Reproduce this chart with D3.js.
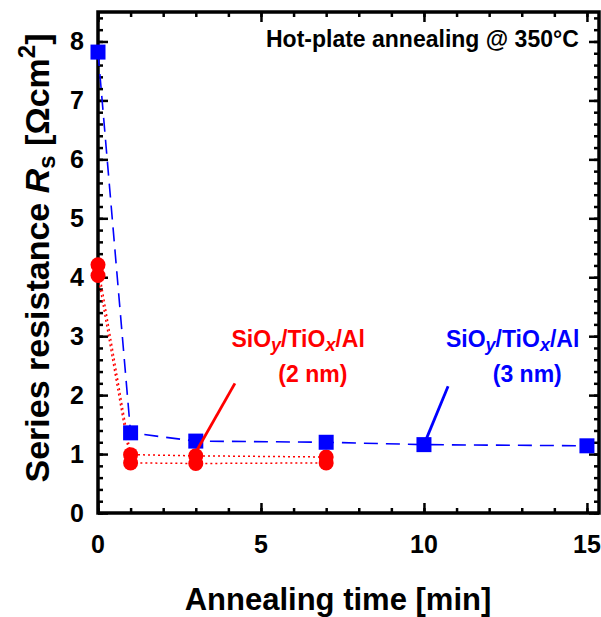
<!DOCTYPE html>
<html>
<head>
<meta charset="utf-8">
<script src="https://d3js.org/d3.v7.min.js"></script>
<style>
  body { margin: 0; background: #fff; }
  text { font-family: "Liberation Sans", Arial, sans-serif; font-weight: bold; }
</style>
</head>
<body>
<div id="chart"></div>
<script>
// data
var blueTime = [0, 1, 3, 7, 10, 15];
var blueRs   = [7.82, 1.36, 1.22, 1.20, 1.16, 1.14];
var redTime  = [0, 1, 3, 7];
var redRsA   = [4.21, 0.99, 0.97, 0.95];
var redRsB   = [4.03, 0.85, 0.84, 0.85];
var xTicks = [0, 5, 10, 15];
var yTicks = [0, 1, 2, 3, 4, 5, 6, 7, 8];

var W = 601, H = 617;
var edge = { top: 12, right: 2, bottom: 104, left: 98 };
var width = W - edge.left - edge.right,
    height = H - edge.top - edge.bottom;

var svg = d3.select("#chart").append("svg")
    .attr("width", W).attr("height", H);
var g = svg.append("g")
    .attr("transform", "translate(" + edge.left + "," + edge.top + ")");

var x = d3.scaleLinear().domain([0, 15.37]).range([0, width]);
var y = d3.scaleLinear().domain([0, 8.5]).range([height, 0]);

var minorX = d3.range(0, 15.01, 1), minorY = d3.range(0, 8.41, 0.2);

// ticks on all four sides, pointing inward
function tickAxis(axisFn, scale, vals, len, tr) {
  var a = g.append("g").attr("transform", tr)
    .call(axisFn(scale).tickValues(vals).tickSize(-len).tickFormat(""));
  a.select(".domain").remove();
  a.selectAll("line").attr("stroke", "#000").attr("stroke-width", 2.5);
}
tickAxis(d3.axisBottom, x, minorX, 5, "translate(0," + height + ")");
tickAxis(d3.axisBottom, x, xTicks, 10, "translate(0," + height + ")");
tickAxis(d3.axisTop, x, minorX, 5, "translate(0,0)");
tickAxis(d3.axisTop, x, xTicks, 10, "translate(0,0)");
tickAxis(d3.axisLeft, y, minorY, 5, "translate(0,0)");
tickAxis(d3.axisLeft, y, yTicks, 10, "translate(0,0)");
tickAxis(d3.axisRight, y, minorY, 5, "translate(" + width + ",0)");
tickAxis(d3.axisRight, y, yTicks, 10, "translate(" + width + ",0)");

g.append("rect").attr("width", width).attr("height", height)
  .attr("fill", "none").attr("stroke", "#000").attr("stroke-width", 3.5);

// tick labels
g.selectAll(".xl").data(xTicks).enter().append("text")
  .attr("x", function(d) { return x(d); }).attr("y", height + 40)
  .attr("text-anchor", "middle").attr("font-size", 25).text(function(d) { return d; });
g.selectAll(".yl").data(yTicks).enter().append("text")
  .attr("x", -14).attr("y", function(d) { return y(d) + 9; })
  .attr("text-anchor", "end").attr("font-size", 25).text(function(d) { return d; });

// axis titles
svg.append("text").attr("x", 338).attr("y", 610).attr("text-anchor", "middle")
  .attr("font-size", 31).text("Annealing time [min]");

var yl = svg.append("text").attr("transform", "translate(49,258) rotate(-90)")
  .attr("text-anchor", "middle").attr("font-size", 34);
yl.append("tspan").text("Series resistance ");
yl.append("tspan").attr("font-style", "italic").text("R");
yl.append("tspan").attr("font-size", 24).attr("dy", 6).text("s");
yl.append("tspan").attr("dy", -6).text(" [\u03A9cm");
yl.append("tspan").attr("font-size", 24).attr("dy", -14).text("2");
yl.append("tspan").attr("dy", 14).text("]");

// lines
var blue = blueTime.map(function(t, i) { return [t, blueRs[i]]; });
var redA = redTime.map(function(t, i) { return [t, redRsA[i]]; });
var redB = redTime.map(function(t, i) { return [t, redRsB[i]]; });
var line = d3.line().x(function(d) { return x(d[0]); }).y(function(d) { return y(d[1]); });

[redA, redB].forEach(function(s) {
  g.append("path").attr("d", line(s)).attr("fill", "none")
    .attr("stroke", "#ff0000").attr("stroke-width", 1.5).attr("stroke-dasharray", "2,3");
});
g.append("path").attr("d", line(blue)).attr("fill", "none")
  .attr("stroke", "#0000ff").attr("stroke-width", 1.6).attr("stroke-dasharray", "14,8");

// markers
[redA, redB].forEach(function(s) {
  g.selectAll(null).data(s).enter().append("circle")
    .attr("cx", function(d) { return x(d[0]); }).attr("cy", function(d) { return y(d[1]); })
    .attr("r", 7.5).attr("fill", "#ff0000");
});
g.selectAll(null).data(blue).enter().append("rect")
  .attr("x", function(d) { return x(d[0]) - 7.5; }).attr("y", function(d) { return y(d[1]) - 7.5; })
  .attr("width", 15).attr("height", 15).attr("fill", "#0000ff");

// annotations
g.append("line").attr("x1", x(3)).attr("y1", y(1.03)).attr("x2", x(4.2)).attr("y2", y(2.2))
  .attr("stroke", "#ff0000").attr("stroke-width", 2.8);
g.append("line").attr("x1", x(10)).attr("y1", y(1.16)).attr("x2", x(10.74)).attr("y2", y(2.15))
  .attr("stroke", "#0000ff").attr("stroke-width", 2.8);

function label(cx, cy, color, thick) {
  var t = g.append("text").attr("x", x(cx)).attr("y", y(cy))
    .attr("text-anchor", "middle").attr("font-size", 23).attr("fill", color);
  t.append("tspan").text("SiO");
  t.append("tspan").attr("font-style", "italic").attr("font-size", 18).attr("dy", 4).text("y");
  t.append("tspan").attr("dy", -4).text("/TiO");
  t.append("tspan").attr("font-style", "italic").attr("font-size", 18).attr("dy", 4).text("x");
  t.append("tspan").attr("dy", -4).text("/Al");
  g.append("text").attr("x", x(cx + 0.45)).attr("y", y(cy - 0.6))
    .attr("text-anchor", "middle").attr("font-size", 23).attr("fill", color).text(thick);
}
label(6.14, 2.82, "#ff0000", "(2 nm)");
label(12.72, 2.82, "#0000ff", "(3 nm)");

g.append("text").attr("x", x(14.75)).attr("y", y(7.9)).attr("text-anchor", "end")
  .attr("font-size", 23).text("Hot-plate annealing @ 350\u00B0C");
</script>
</body>
</html>
